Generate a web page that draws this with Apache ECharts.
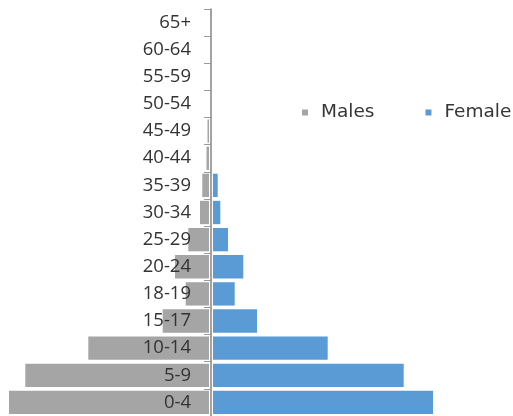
<!DOCTYPE html>
<html>
<head>
<meta charset="utf-8">
<script src="https://cdn.jsdelivr.net/npm/echarts@6/dist/echarts.min.js"></script>
<style>
html,body{margin:0;padding:0;background:#fff;}
#chart{width:513px;height:416px;}
</style>
</head>
<body>
<div id="chart"></div>
<script>
// Age groups, bottom to top
const categories = ['0-4','5-9','10-14','15-17','18-19','20-24','25-29','30-34','35-39','40-44','45-49','50-54','55-59','60-64','65+'];
// Values (same unit for both series)
const males  = [2020, 1857, 1227, 483, 253, 360, 227, 110, 87, 45, 35, 0, 0, 0, 0];
const female = [2220, 1927, 1167, 460, 237, 323, 170, 93, 67, 0, 0, 0, 0, 0, 0];
const seriesNames = ['Males', 'Female'];

const chart = echarts.init(document.getElementById('chart'), null, {renderer: 'canvas'});
const FONT = '"Open Sans", "Noto Sans", sans-serif';
const LEGEND_FONT = '"DejaVu Sans", "Open Sans", sans-serif';
const gap = {
  silent: true, symbol: ['none', 'none'], label: {show: false},
  lineStyle: {color: '#ffffff', width: 4, type: 'solid'},
  data: [{xAxis: 0}]
};
chart.setOption({
  animation: false,
  backgroundColor: '#ffffff',
  grid: [
    {left: 0, width: 211, top: 9, bottom: 0, containLabel: false, outerBoundsMode: 'none'},
    {left: 211, width: 300, top: 9, bottom: 0, containLabel: false, outerBoundsMode: 'none'}
  ],
  legend: {
    data: seriesNames,
    orient: 'horizontal',
    left: 302, top: 103, width: 211, padding: 0,
    icon: 'rect', itemWidth: 6, itemHeight: 6, itemGap: 51,
    textStyle: {fontFamily: LEGEND_FONT, fontSize: 18.5, color: '#363636', padding: [0, 0, 0, 8]}
  },
  xAxis: [
    {type: 'value', gridIndex: 0, min: 0, max: 2110, inverse: true, show: false},
    {type: 'value', gridIndex: 1, min: 0, max: 3000, show: false}
  ],
  yAxis: [
    {type: 'category', gridIndex: 0, data: categories, show: false},
    {
      type: 'category', gridIndex: 1, data: categories, z: 10, position: 'left',
      axisLine: {show: true, onZero: false, lineStyle: {color: '#8c8c8c', width: 1.6}},
      axisTick: {show: true, length: 7, lineStyle: {color: '#999', width: 1}},
      axisLabel: {margin: 20, fontFamily: FONT, fontSize: 18.5, color: '#333'},
      splitLine: {show: false}
    }
  ],
  series: [
    {
      name: seriesNames[0], type: 'bar', xAxisIndex: 0, yAxisIndex: 0, barCategoryGap: '14%',
      itemStyle: {color: '#A5A5A5'},
      data: males,
      markLine: gap
    },
    {
      name: seriesNames[1], type: 'bar', xAxisIndex: 1, yAxisIndex: 1, barCategoryGap: '14%',
      itemStyle: {color: '#5B9BD5'},
      data: female,
      markLine: gap
    }
  ]
});
</script>
</body>
</html>
